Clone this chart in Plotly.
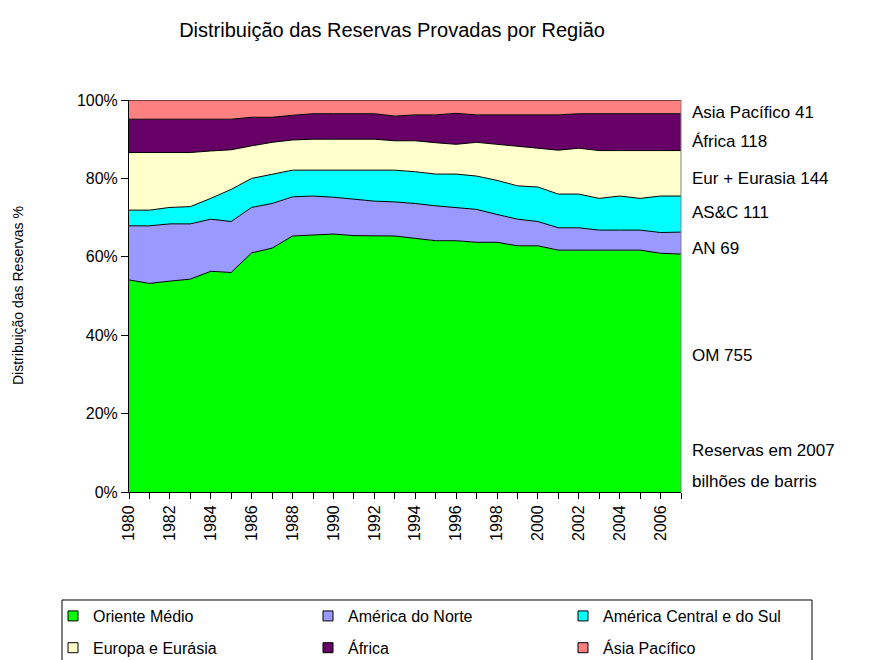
import plotly.graph_objects as go

years = list(range(1980, 2008))

# Share of proven reserves by region (% of world total)
oriente_medio = [54.1, 53.2, 53.8, 54.3, 56.3, 56.0, 61.0, 62.2, 65.3, 65.6, 65.8, 65.4, 65.3, 65.3,
                 64.7, 64.1, 64.1, 63.7, 63.7, 62.8, 62.8, 61.7, 61.7, 61.7, 61.7, 61.7, 60.9, 60.7]
america_norte = [13.8, 14.7, 14.6, 14.1, 13.3, 13.0, 11.6, 11.4, 10.0, 9.9, 9.4, 9.3, 8.9, 8.7,
                 8.9, 8.9, 8.5, 8.4, 7.1, 6.8, 6.2, 5.7, 5.7, 5.1, 5.1, 5.1, 5.3, 5.6]
america_cs = [4.0, 4.0, 4.2, 4.4, 5.3, 8.2, 7.4, 7.4, 6.8, 6.6, 6.9, 7.4, 7.9, 8.1,
              8.1, 8.1, 8.5, 8.5, 8.7, 8.5, 8.8, 8.6, 8.6, 8.1, 8.7, 8.1, 9.3, 9.2]
europa_eurasia = [14.7, 14.7, 14.0, 13.8, 12.1, 10.1, 8.3, 8.2, 7.7, 7.9, 7.9, 7.9, 7.9, 7.5,
                  7.9, 8.0, 7.6, 8.6, 9.2, 10.2, 9.9, 11.2, 11.7, 12.2, 11.6, 12.2, 11.6, 11.6]
africa = [8.5, 8.5, 8.5, 8.5, 8.1, 7.8, 7.3, 6.4, 6.3, 6.5, 6.5, 6.5, 6.5, 6.3,
          6.6, 7.1, 7.9, 7.0, 7.5, 7.9, 8.5, 9.0, 8.8, 9.4, 9.4, 9.4, 9.4, 9.4]
asia_pacifico = [4.9, 4.9, 4.9, 4.9, 4.9, 4.9, 4.4, 4.4, 3.9, 3.5, 3.5, 3.5, 3.5, 4.1,
                 3.8, 3.8, 3.4, 3.8, 3.8, 3.8, 3.8, 3.8, 3.5, 3.5, 3.5, 3.5, 3.5, 3.5]

series_names = ["Oriente Médio", "América do Norte", "América Central e do Sul",
                "Europa e Eurásia", "África", "Ásia Pacífico"]
series_values = [oriente_medio, america_norte, america_cs, europa_eurasia, africa, asia_pacifico]
series_colors = ["#00FF00", "#9999FF", "#00FFFF", "#FFFFCC", "#660066", "#FF8080"]
legend_ids = ["legend", "legend2", "legend3", "legend", "legend2", "legend3"]

# Right-side labels: reserves in 2007 (billion barrels)
label_names = ["OM", "AN", "AS&C", "Eur + Eurasia", "África", "Asia Pacífico"]
reserves_2007 = [755, 69, 111, 144, 118, 41]
label_ypos = [0.349, 0.622, 0.712, 0.801, 0.893, 0.969]

tick_years = years
tick_text = [str(y) if y % 2 == 0 else "" for y in years]
y_tickvals = [0, 20, 40, 60, 80, 100]
y_ticktext = [f"{v}%" for v in y_tickvals]

FONT = "Liberation Sans, Arial, sans-serif"

fig = go.Figure()
for name, vals, col in zip(series_names, series_values, series_colors):
    fig.add_trace(go.Scatter(
        x=years, y=vals, name=name, mode="lines", stackgroup="one", groupnorm="percent",
        line=dict(color="black", width=1, shape="linear"), fillcolor=col,
        showlegend=False, hoverinfo="x+y+name"))
# legend entries (square swatches), arranged in three columns
for name, col, lg in zip(series_names, series_colors, legend_ids):
    fig.add_trace(go.Scatter(
        x=[None], y=[None], name=name, mode="markers", legend=lg, legendgroup=name,
        marker=dict(symbol="square", size=10, color=col, line=dict(color="black", width=1)),
        showlegend=True))

ann_font = dict(size=17, color="black", family=FONT)
for nm, val, yp in zip(label_names, reserves_2007, label_ypos):
    fig.add_annotation(x=1.016, y=yp, xref="paper", yref="paper", xanchor="left", yanchor="middle",
                       text=f"{nm} {val}", showarrow=False, font=ann_font)
fig.add_annotation(x=1.016, y=0.107, xref="paper", yref="paper", xanchor="left", yanchor="middle",
                   text="Reservas em 2007", showarrow=False, font=ann_font)
fig.add_annotation(x=1.016, y=0.028, xref="paper", yref="paper", xanchor="left", yanchor="middle",
                   text="bilhões de barris", showarrow=False, font=ann_font)
# y-axis title
fig.add_annotation(x=(18 - 129) / 552, y=0.5, xref="paper", yref="paper", xanchor="center",
                   yanchor="middle", textangle=-90, text="Distribuição das Reservas %",
                   showarrow=False, font=dict(size=14, family=FONT, color="black"))

fig.add_shape(type="line", xref="paper", yref="paper", x0=1, x1=1, y0=0, y1=1,
              line=dict(color="#808080", width=1))
# legend frame
fig.add_shape(type="rect", xref="paper", yref="paper", x0=-0.1214, x1=1.2373, y0=-0.45, y1=-0.2755,
              line=dict(color="black", width=1), fillcolor="rgba(0,0,0,0)")

leg_common = dict(orientation="v", xref="container", yref="container", y=0.0924,
                  xanchor="left", yanchor="top", bgcolor="rgba(0,0,0,0)", borderwidth=0,
                  tracegroupgap=8, traceorder="grouped",
                  font=dict(size=16, family=FONT, color="black"))

fig.update_layout(
    width=883, height=660,
    margin=dict(l=129, r=202, t=100, b=168, autoexpand=False),
    paper_bgcolor="white", plot_bgcolor="white",
    font=dict(family=FONT, color="black", size=15),
    title=dict(text="Distribuição das Reservas Provadas por Região", x=0.444, xanchor="center",
               y=0.955, yanchor="middle", font=dict(size=20, family=FONT, color="black")),
    xaxis=dict(range=[1980, 2007], tickmode="array", tickvals=tick_years, ticktext=tick_text,
               tickangle=-90, ticks="outside", ticklen=6, tickcolor="black", showline=True,
               linecolor="black", linewidth=1, showgrid=False, zeroline=False,
               tickfont=dict(size=16, family=FONT, color="black")),
    yaxis=dict(range=[0, 100], tickmode="array", tickvals=y_tickvals, ticktext=y_ticktext,
               ticks="outside", ticklen=7, tickcolor="black", showline=True, linecolor="black",
               linewidth=1, showgrid=False, zeroline=False,
               tickfont=dict(size=16, family=FONT, color="black")),
    legend=dict(x=53 / 883, **leg_common),
    legend2=dict(x=308 / 883, **leg_common),
    legend3=dict(x=563 / 883, **leg_common),
)

fig.write_html("out.html", config={"displayModeBar": False},
               post_script="document.body.style.margin='0';document.body.style.overflow='hidden';")
